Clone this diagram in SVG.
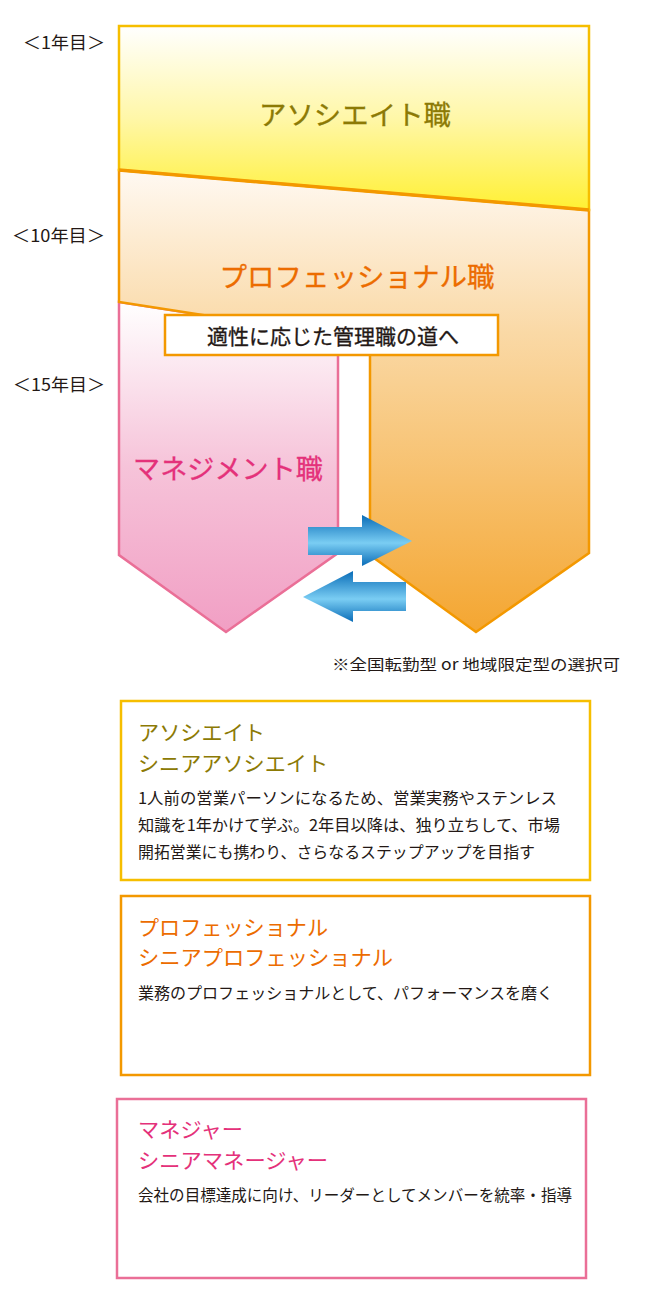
<svg xmlns="http://www.w3.org/2000/svg" width="666" height="1293" viewBox="0 0 666 1293">
<defs>
<linearGradient id="gY" gradientUnits="userSpaceOnUse" x1="0" y1="26" x2="0" y2="210">
<stop offset="0" stop-color="#FFFFFF"/><stop offset="0.5" stop-color="#FFF7A8"/><stop offset="1" stop-color="#FFF033"/>
</linearGradient>
<linearGradient id="gO" gradientUnits="userSpaceOnUse" x1="0" y1="170" x2="0" y2="632">
<stop offset="0" stop-color="#FFF9F2"/><stop offset="0.35" stop-color="#FAD9A6"/><stop offset="1" stop-color="#F4A631"/>
</linearGradient>
<linearGradient id="gP" gradientUnits="userSpaceOnUse" x1="0" y1="302" x2="0" y2="632">
<stop offset="0" stop-color="#FFFFFF"/><stop offset="0.5" stop-color="#F6C3D9"/><stop offset="1" stop-color="#F19FC4"/>
</linearGradient>
<linearGradient id="gA" x1="0" y1="0" x2="0" y2="1">
<stop offset="0" stop-color="#0A6DB8"/><stop offset="0.55" stop-color="#7ACDF3"/><stop offset="1" stop-color="#0A6DB8"/>
</linearGradient>
<style>
.jp{font-family:"Noto Sans CJK JP","Noto Sans",sans-serif;}
.yr{font-size:17px;fill:#231815;}
.big{font-size:27px;stroke-width:0.3;}
.ttl{font-size:21px;}
.body{font-size:16px;fill:#231815;}
.olive{fill:#8C7A05;}
.big.olive{stroke:#8C7A05;}
.orange{fill:#EC6C00;}
.big.orange{stroke:#EC6C00;}
.pink{fill:#E4317A;}
.big.pink{stroke:#E4317A;}
.box{fill:#FFFFFF;stroke-width:2.5;}
</style>
</defs>

<g id="year-labels" class="jp">
<text class="yr" x="23" y="49" textLength="82" lengthAdjust="spacingAndGlyphs">＜1年目＞</text>
<text class="yr" x="12" y="242" textLength="93" lengthAdjust="spacingAndGlyphs">＜10年目＞</text>
<text class="yr" x="13" y="391" textLength="92" lengthAdjust="spacingAndGlyphs">＜15年目＞</text>
</g>

<g id="management">
<polygon points="119,302 338,336 338,553 226,632 119,555" fill="url(#gP)" stroke="#EA6F97" stroke-width="2.5" stroke-linejoin="miter"/>
<text class="jp big pink" x="228" y="479" text-anchor="middle" textLength="190" lengthAdjust="spacingAndGlyphs">マネジメント職</text>
</g>

<g id="professional">
<polygon points="119,170 589,210 589,553 476,632 370,555 370,345 338,345 338,336 119,302" fill="url(#gO)" stroke="#F39800" stroke-width="2.5" stroke-linejoin="miter"/>
<text class="jp big orange" x="357" y="287" text-anchor="middle" textLength="275" lengthAdjust="spacingAndGlyphs">プロフェッショナル職</text>
</g>

<g id="associate">
<polygon points="119,26 589,26 589,210 119,170" fill="url(#gY)" stroke="#F6BE00" stroke-width="2.5"/>
<line x1="119" y1="170" x2="589" y2="210" stroke="#F39800" stroke-width="3.5"/>
<text class="jp big olive" x="355" y="125" text-anchor="middle" textLength="192" lengthAdjust="spacingAndGlyphs">アソシエイト職</text>
</g>

<g id="path-label">
<rect x="165" y="315" width="333" height="40" fill="#FFFFFF" stroke="#F39800" stroke-width="2.5"/>
<text class="jp" x="333" y="343.5" text-anchor="middle" font-size="21" fill="#231815" stroke="#231815" stroke-width="0.3" textLength="252" lengthAdjust="spacingAndGlyphs">適性に応じた管理職の道へ</text>
</g>

<g id="connectors">
<polygon points="308,527 362,527 362,515 412,541 362,566 362,555 308,555" fill="url(#gA)"/>
<polygon points="406,582 353,582 353,571 303,597 353,622 353,611 406,611" fill="url(#gA)"/>
</g>

<g id="note" class="jp">
<text x="332" y="670" font-size="15" fill="#231815" textLength="288" lengthAdjust="spacingAndGlyphs">※全国転勤型 or 地域限定型の選択可</text>
</g>

<g id="box-associate" class="jp">
<rect class="box" x="121" y="701" width="469" height="179" stroke="#F6BE00"/>
<text class="ttl olive" x="138" y="739.5" textLength="127" lengthAdjust="spacingAndGlyphs">アソシエイト</text>
<text class="ttl olive" x="138" y="770.5" textLength="190" lengthAdjust="spacingAndGlyphs">シニアアソシエイト</text>
<text class="body" x="138" y="804" textLength="419" lengthAdjust="spacingAndGlyphs">1人前の営業パーソンになるため、営業実務やステンレス</text>
<text class="body" x="138" y="831" textLength="422" lengthAdjust="spacingAndGlyphs">知識を1年かけて学ぶ。2年目以降は、独り立ちして、市場</text>
<text class="body" x="138" y="858" textLength="397" lengthAdjust="spacingAndGlyphs">開拓営業にも携わり、さらなるステップアップを目指す</text>
</g>

<g id="box-professional" class="jp">
<rect class="box" x="121" y="896" width="469" height="179" stroke="#F39800"/>
<text class="ttl orange" x="138" y="934.5" textLength="190" lengthAdjust="spacingAndGlyphs">プロフェッショナル</text>
<text class="ttl orange" x="138" y="964.5" textLength="255" lengthAdjust="spacingAndGlyphs">シニアプロフェッショナル</text>
<text class="body" x="138" y="999" textLength="415" lengthAdjust="spacingAndGlyphs">業務のプロフェッショナルとして、パフォーマンスを磨く</text>
</g>

<g id="box-manager" class="jp">
<rect class="box" x="117" y="1099" width="469" height="179" stroke="#EA6F97"/>
<text class="ttl pink" x="138" y="1136.5" textLength="105" lengthAdjust="spacingAndGlyphs">マネジャー</text>
<text class="ttl pink" x="138" y="1167.5" textLength="190" lengthAdjust="spacingAndGlyphs">シニアマネージャー</text>
<text class="body" x="138" y="1201" textLength="434" lengthAdjust="spacingAndGlyphs">会社の目標達成に向け、リーダーとしてメンバーを統率・指導</text>
</g>
</svg>
